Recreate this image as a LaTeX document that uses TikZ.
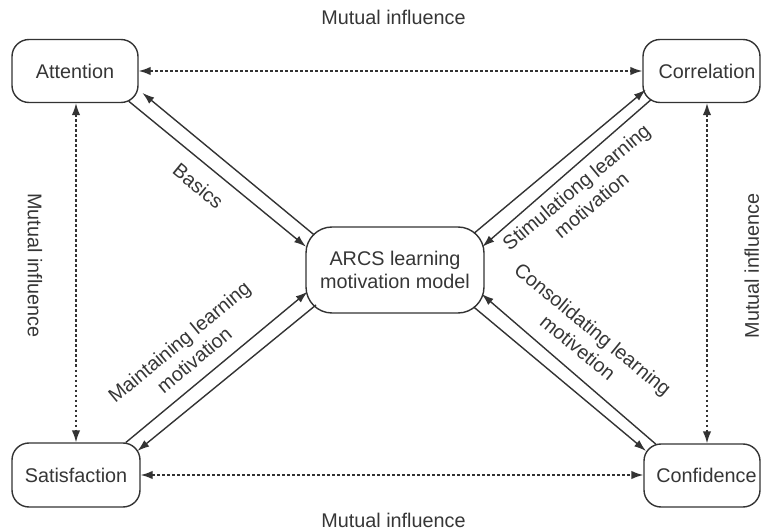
\documentclass[tikz,border=0pt]{standalone}
\usepackage{fontspec}
\setmainfont{Liberation Sans}
\usetikzlibrary{arrows.meta,positioning,calc}
\definecolor{ink}{HTML}{333333}
\definecolor{txt}{HTML}{363636}
\tikzset{
  bnode/.style={draw=ink,fill=white,text=txt,rounded corners=17pt,minimum height=63pt,
    inner sep=0pt,font=\fontsize{19.8}{23.5}\selectfont,line width=1.4pt},
  cnode/.style={bnode,rounded corners=26pt,align=center,minimum width=178pt,minimum height=86pt},
  aedge/.style={-{Latex[length=12pt,width=8pt]},line width=1.4pt,color=ink},
  dedge/.style={{Latex[length=12pt,width=8.5pt]}-{Latex[length=12pt,width=8.5pt]},
    line width=1.4pt,color=ink,dash pattern=on 2.5pt off 2.5pt},
  lbl/.style={text=txt,font=\fontsize{19.8}{23.5}\selectfont,align=center,inner sep=0pt},
}

\begin{document}
\begin{tikzpicture}[x=1pt,y=1pt]
  \useasboundingbox (0,0) rectangle (761,531);
  \node[bnode,minimum width=126pt] (att) at (75,460){Attention};
  \node[bnode,minimum width=117pt] (cor) at (701.5,460){\hspace*{11pt}Correlation};
  \node[bnode,minimum width=128pt,minimum height=64pt] (sat) at (76,56){Satisfaction};
  \node[bnode,minimum width=116pt] (con) at (702,55.5){\hspace*{9pt}Confidence};
  \node[cnode] (arcs) at (395,261){ARCS learning\\motivation model};
  % mutual influence
  \draw[dedge] (att.east) -- (cor.west); \draw[dedge] (sat.east) -- (sat.east -| con.west);
  \draw[dedge] ([xshift=1pt]att.south) -- (sat.north);
  \draw[dedge] ([xshift=5.5pt]cor.south) -- ([xshift=5pt]con.north);
  \node[lbl] (mtop) at (393.5,513.5){Mutual influence};
  \node[lbl] (mbot) at (393.5,11){Mutual influence};
  \node[lbl,rotate=-90] (mlft) at (35,265.5){Mutual influence};
  \node[lbl,rotate=90] (mrgt) at (751.8,265){Mutual influence};
  % double arrows
  \draw[aedge] ($(arcs.west)+(9,35)$) -- ($(att.south east)+(3.7,10.3)$);
  \draw[aedge] ($(att.south east)+(-10,2)$) -- ($(arcs.west)+(0.7,23.3)$);
  \draw[aedge] ($(arcs.east)+(-10.7,36.7)$) -- ($(cor.south west)+(3.5,13.5)$);
  \draw[aedge] ($(cor.south west)+(8.7,3.5)$) -- ($(arcs.east)+(-2.3,23.3)$);
  \draw[aedge] ($(sat.north east)+(-15,-0.3)$) -- ($(arcs.west)+(2.3,-21.7)$);
  \draw[aedge] ($(arcs.west)+(10.7,-35)$) -- ($(sat.north east)+(-3.3,-8.7)$);
  \draw[aedge] ($(con.north west)+(12.7,-1)$) -- ($(arcs.east)+(-3,-24)$);
  \draw[aedge] ($(arcs.east)+(-11,-37)$) -- ($(con.north west)+(2.7,-7.7)$);
  \node[lbl,rotate=-39.6] (lbas) at (198.3,345.2){Basics};
  \node[lbl,rotate=39.8] (lsti) at (583.7,335.2){Stimulationg learning\\motivation};
  \node[lbl,rotate=39.6] (lmai) at (186.7,180.2){Maintaining learning\\motivation};
  \node[lbl,rotate=-39.4] (lcon) at (585.5,192.7){Consolidating learning\\motivetion};
\end{tikzpicture}
\end{document}
